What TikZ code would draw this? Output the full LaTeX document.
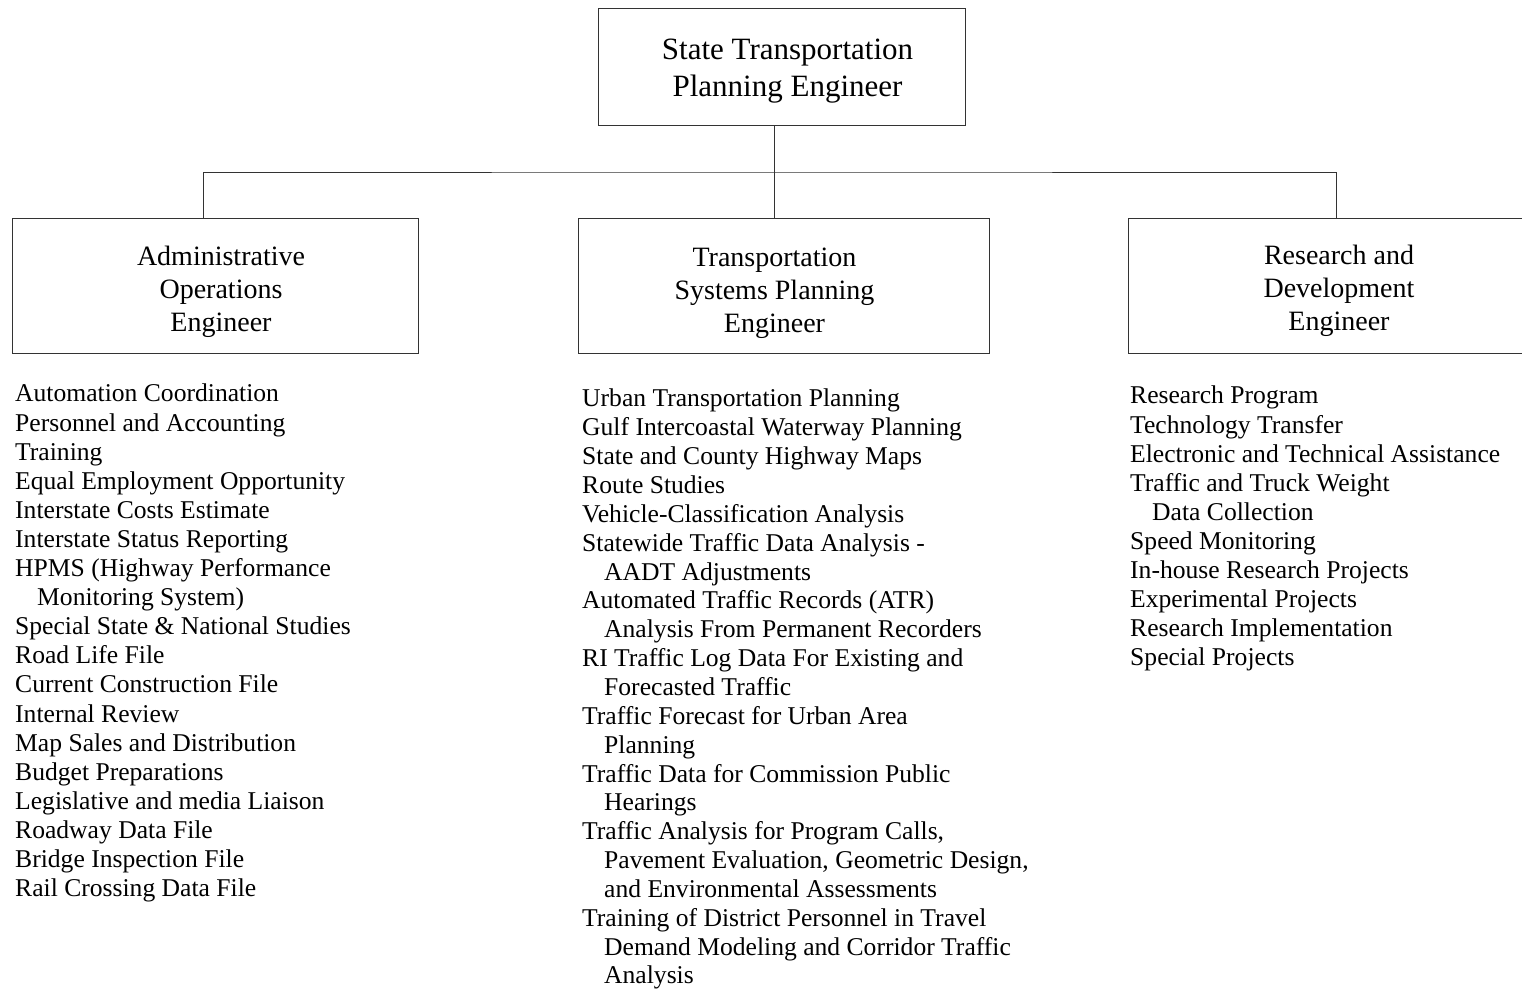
\documentclass[tikz,border=0pt]{standalone}
\usepackage{fontspec}
\setmainfont{Liberation Serif}
\usepackage{tikz}
\usetikzlibrary{calc}

\newcommand{\indentline}{\hspace*{22pt}}

\begin{document}
\begin{tikzpicture}[x=1pt,y=-1pt,
	box/.style={draw=black!80,line width=1pt,rectangle,inner sep=0pt,minimum height=135pt},
	boxtext/.style={inner sep=0pt,align=center,font=\fontsize{28}{33}\selectfont},
	duties/.style={anchor=north west,inner sep=0pt,align=left,font=\fontsize{25.6}{29.1}\selectfont}]
	\useasboundingbox (0,0) rectangle (1522,989);
	% boxes
	\node[box,minimum width=367pt,minimum height=117pt] (top) at (781.5,66.5){};
	\node[box,minimum width=406pt] (adm) at (215,285.5){};
	\node[box,minimum width=411pt] (tsp) at (783.5,285.5){};
	\node[box,minimum width=422pt] (rnd) at (1339,285.5){};
	% titles
	\node[boxtext,font=\fontsize{31}{36.5}\selectfont] (toptext) at ($(top.center)+(6,4.5)$){State Transportation\\Planning Engineer};
	\node[boxtext] (admtext) at ($(adm.center)+(6,6)$){Administrative\\Operations\\Engineer};
	\node[boxtext] (tsptext) at ($(tsp.center)+(-9,8)$){Transportation\\Systems Planning\\Engineer};
	\node[boxtext] (rndtext) at ($(rnd.center)+(0,5)$){Research and\\Development\\Engineer};
	% connectors
	\coordinate (bus) at (774,172);
	\coordinate (busl) at (203,172);
	\coordinate (busr) at (1336,172);
	\begin{scope}[draw=black!80,line width=1pt]
	\draw (top.south -| bus)--(tsp.north -| bus);
	\draw (adm.north -| busl) |- (bus) -| (rnd.north -| busr);
	\end{scope}
	% duty lists
	\node[duties] (admlist) at (15,384){Automation Coordination\\
		Personnel and Accounting\\
		Training\\
		Equal Employment Opportunity\\
		Interstate Costs Estimate\\
		Interstate Status Reporting\\
		HPMS (Highway Performance\\
		\indentline Monitoring System)\\
		Special State \& National Studies\\
		Road Life File\\
		Current Construction File\\
		Internal Review\\
		Map Sales and Distribution\\
		Budget Preparations\\
		Legislative and media Liaison\\
		Roadway Data File\\
		Bridge Inspection File\\
		Rail Crossing Data File};
	\node[duties,font=\fontsize{25.6}{28.85}\selectfont] (tsplist) at (582,389){Urban Transportation Planning\\
		Gulf Intercoastal Waterway Planning\\
		State and County Highway Maps\\
		Route Studies\\
		Vehicle-Classification Analysis\\
		Statewide Traffic Data Analysis -\\
		\indentline AADT Adjustments\\
		Automated Traffic Records (ATR)\\
		\indentline Analysis From Permanent Recorders\\
		RI Traffic Log Data For Existing and\\
		\indentline Forecasted Traffic\\
		Traffic Forecast for Urban Area\\
		\indentline Planning\\
		Traffic Data for Commission Public\\
		\indentline Hearings\\
		Traffic Analysis for Program Calls,\\
		\indentline Pavement Evaluation, Geometric Design,\\
		\indentline and Environmental Assessments\\
		Training of District Personnel in Travel\\
		\indentline Demand Modeling and Corridor Traffic\\
		\indentline Analysis};
	\node[duties] (rndlist) at (1130,386){Research Program\\
		Technology Transfer\\
		Electronic and Technical Assistance\\
		Traffic and Truck Weight\\
		\indentline Data Collection\\
		Speed Monitoring\\
		In-house Research Projects\\
		Experimental Projects\\
		Research Implementation\\
		Special Projects};
\end{tikzpicture}
\end{document}
